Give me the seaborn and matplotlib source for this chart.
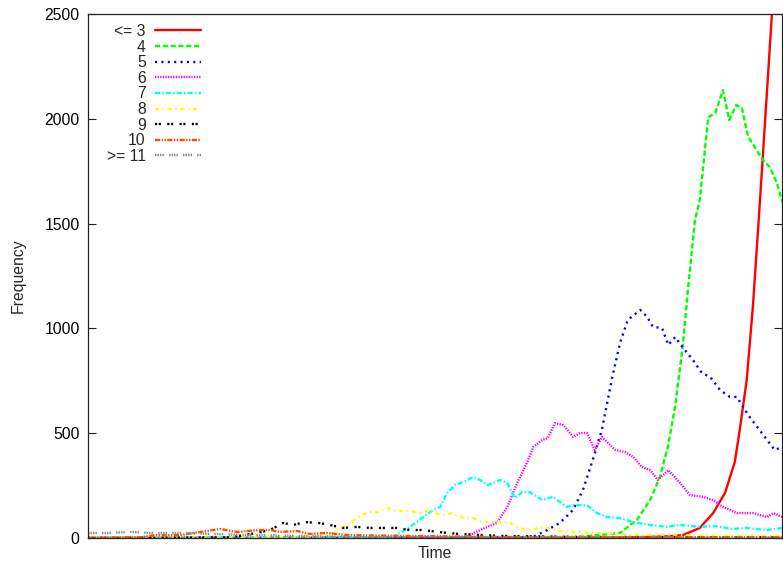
import pandas as pd
import matplotlib
matplotlib.use("Agg")
import matplotlib.pyplot as plt
import seaborn as sns

# series labels, colours and dash patterns (gnuplot-like)
labels = ["<= 3", "4", "5", "6", "7", "8", "9", "10", ">= 11"]
colors = ["#ff0000", "#00ff00", "#0000ff", "#ff00ff", "#00ffff",
          "#ffff00", "#000000", "#ff4f00", "#888888"]
dashes = ["", (2.2, 1.1), (0.9, 1.8), (0.55, 0.55), (2.2, 0.9, 0.6, 0.9),
          (1.6, 1.6, 0.6, 1.6), (0.9, 0.7, 0.9, 2.7),
          (2.2, 0.6, 0.6, 0.6, 0.6, 0.6),
          (0.6, 0.45, 0.6, 0.45, 0.6, 0.45, 0.6, 2.2)]

# values (time is an arbitrary index 0..99)
red_t = [0, 60, 75, 79, 83, 85, 87.4, 89.3, 91, 92.4, 93.1, 94.1, 95, 96, 97.1, 97.7, 98.5]
red_v = [0, 0, 2, 4, 8, 14, 48, 119, 215, 363, 515, 754, 1112, 1613, 2185, 2500, 2900]

green_t = [0, 20, 40, 55, 65, 70, 73.1, 76, 78.4, 80.3, 81.7, 82.9, 83.9, 84.9, 85.7,
           86.7, 87.4, 88.6, 89.6, 90.7, 91.6, 92.6, 93.4, 94.3, 96.4, 97.4, 98.4, 99.2]
green_v = [0, 1, 2, 3, 4, 5, 15, 24, 86, 181, 291, 444, 635, 897, 1183,
           1517, 1613, 2008, 2027, 2137, 1994, 2066, 2052, 1914, 1804, 1770, 1694, 1603]

blue_t = [0, 40, 60, 62, 63.6, 65.6, 67.4, 69.3, 70.7, 72.1, 73.4, 74.9, 76, 77.1, 78.9,
          79.9, 80.7, 82, 82.9, 83.9, 85, 86.4, 87.7, 88.9, 90.3, 91.7, 92.7, 94.3,
          95.6, 97, 98.1, 99.2]
blue_v = [0, 1, 2, 3, 5, 38, 72, 134, 229, 372, 515, 768, 930, 1040, 1088,
          1054, 1007, 1002, 921, 959, 907, 850, 787, 768, 706, 673, 673, 587,
          530, 468, 420, 434]

mag_t = [0, 30, 51.7, 54.1, 56, 58.4, 59.9, 61.3, 62.7, 63.6, 64.9, 65.7, 66.7, 67.9,
         69.3, 70.3, 71.3, 72.4, 73.4, 75.3, 76.7, 77.9, 79.1, 80.3, 81.4, 82.9, 84.6,
         86, 87.9, 89.3, 90.7, 91.7, 92.7, 95, 97, 97.9, 99.2]
mag_v = [0, 1, 2, 5, 38, 72, 148, 262, 358, 434, 468, 477, 548, 539,
         482, 501, 501, 420, 482, 420, 410, 387, 339, 324, 277, 324, 262,
         205, 196, 181, 148, 134, 119, 119, 100, 119, 100]

cyan_t = [0, 30, 43.1, 44.1, 46, 47.9, 49.3, 50.3, 51.3, 52.4, 53.6, 55, 56, 57.1,
          58.9, 59.9, 61, 62, 63.1, 64.9, 66.4, 68.4, 69.3, 71.3, 72.7, 74.1, 76,
          77.9, 80.3, 82.7, 84.6, 87.4, 89.6, 92.1, 94.1, 97, 99.2]
cyan_v = [0, 1, 2, 14, 53, 100, 134, 148, 215, 253, 267, 291, 277, 253,
          277, 262, 191, 219, 219, 181, 196, 148, 157, 157, 119, 100, 95,
          76, 62, 53, 62, 53, 57, 43, 48, 38, 48]

yel_t = [0, 20, 33, 35, 36, 37, 38.4, 39.9, 41.3, 42.7, 44.1, 46, 47.4, 48.9, 50.3,
         52, 53.6, 55, 56.4, 58.4, 60.3, 61.3, 62.7, 64.6, 66, 67.9, 69.9, 72.1,
         74.1, 78.9, 84.6, 90.3, 99.2]
yel_v = [0, 2, 8, 24, 48, 62, 95, 124, 124, 143, 129, 129, 119, 134, 110,
         119, 95, 95, 76, 76, 72, 53, 38, 48, 48, 29, 29, 24,
         24, 14, 14, 10, 10]

blk_t = [0, 15, 20.3, 24.1, 26, 27.9, 29.3, 31, 32.9, 34.6, 36.4, 38.4, 40.3, 42.4,
         44.1, 46, 47.9, 49.9, 53.1, 58.9, 70, 99.2]
blk_v = [0, 2, 3, 24, 38, 72, 62, 76, 72, 62, 48, 53, 48, 48,
         48, 38, 38, 29, 19, 10, 5, 3]

org_t = [0, 7.4, 9.6, 13.1, 16.1, 18.9, 21.3, 24.3, 26, 27.4, 29.9, 31.7, 34.1, 37,
         44.6, 58.9, 99.2]
org_v = [0, 3, 14, 14, 29, 43, 29, 38, 38, 29, 33, 19, 24, 14,
         10, 5, 3]

gry_t = [0, 3, 6, 9, 13, 18, 23, 30, 40, 60, 99.2]
gry_v = [24, 24, 29, 24, 24, 19, 14, 10, 5, 3, 2]

series_t = [red_t, green_t, blue_t, mag_t, cyan_t, yel_t, blk_t, org_t, gry_t]
series_v = [red_v, green_v, blue_v, mag_v, cyan_v, yel_v, blk_v, org_v, gry_v]

df = pd.concat(
    [pd.DataFrame({"time": t, "freq": v, "group": lab})
     for lab, t, v in zip(labels, series_t, series_v)],
    ignore_index=True)

sns.set_theme(style="white")
plt.rcParams["font.family"] = ["Liberation Sans", "DejaVu Sans"]

fig = plt.figure(figsize=(7.83, 5.63), dpi=100)
ax = fig.add_axes([88 / 783, 25 / 563, 694 / 783, 524 / 563])

sns.lineplot(data=df, x="time", y="freq", hue="group", style="group",
             hue_order=labels, style_order=labels,
             palette=dict(zip(labels, colors)), dashes=dict(zip(labels, dashes)),
             linewidth=1.7, estimator=None, sort=False, legend=False, ax=ax)

ax.set_xlim(0, 99.14)
ax.set_ylim(0, 2500)
ax.set_xticks([])
ax.set_yticks([0, 500, 1000, 1500, 2000, 2500])
ax.tick_params(axis="y", direction="in", length=6, width=0.8, left=True, right=True,
               labelsize=11.3, pad=6, colors="#222222", labelcolor="black")
for s in ax.spines.values():
    s.set_color("#222222")
    s.set_linewidth(0.9)

ax.set_xlabel("Time", fontsize=11.3)
ax.set_ylabel("Frequency", fontsize=11.3)
ax.xaxis.set_label_coords(0.5, -0.016)
ax.yaxis.set_label_coords(-0.09, 0.5)

ax.legend(ax.get_lines(), labels, loc="upper left", bbox_to_anchor=(0.027, 0.981),
          frameon=False, markerfirst=False, fontsize=11.3, handlelength=2.9,
          handletextpad=0.6, labelspacing=0.04, borderpad=0, borderaxespad=0)

fig.savefig("out.png", dpi=100)
